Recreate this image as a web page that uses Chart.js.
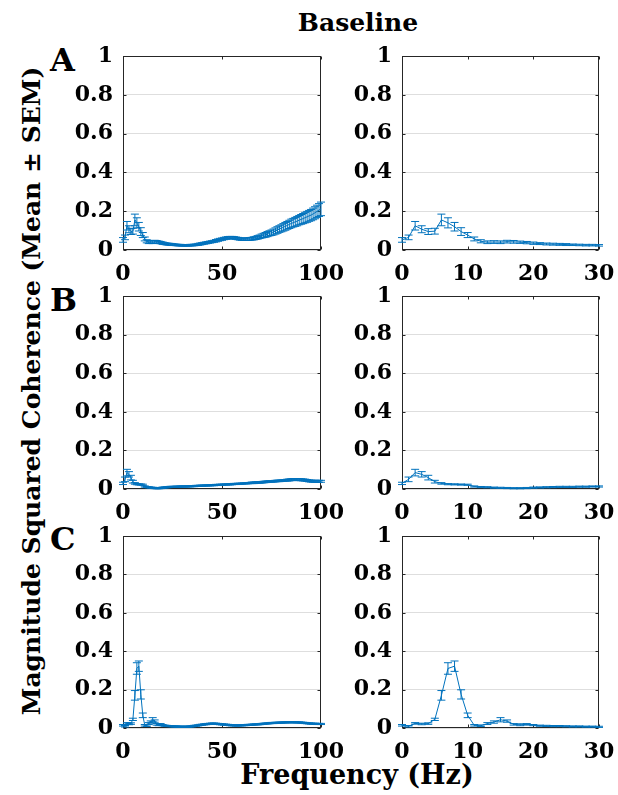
<!DOCTYPE html>
<html>
<head>
<meta charset="utf-8">
<script src="https://cdn.jsdelivr.net/npm/chart.js@4.4.1/dist/chart.umd.min.js"></script>
<style>
  body { margin: 0; background: #fff; }
  #wrap { position: relative; width: 618px; height: 795px; overflow: hidden; font-family: "DejaVu Serif", serif; font-weight: bold; color: #000; }
  #wrap canvas { position: absolute; }
  .lbl { position: absolute; white-space: nowrap; line-height: 1; }
  #title { left: 0; width: 716px; top: 10px; text-align: center; font-size: 25px; }
  #xtitle { left: 0; width: 714px; top: 761px; text-align: center; font-size: 27px; }
  #ytitle { left: 31px; top: 391px; font-size: 25px; transform: translate(-50%, -50%) rotate(-90deg); }
  .letter { left: 50px; font-size: 32px; }
</style>
</head>
<body>
<div id="wrap">
  <div class="lbl" id="title">Baseline</div>
  <div class="lbl" id="ytitle">Magnitude Squared Coherence (Mean ± SEM)</div>
  <div class="lbl" id="xtitle">Frequency (Hz)</div>
  <div class="lbl letter" style="top:44px">A</div>
  <div class="lbl letter" style="top:284px">B</div>
  <div class="lbl letter" style="top:523px">C</div>
</div>
<script>
// frequency bins (Hz)
const freqHz = [0, 1, 2, 3, 4, 5, 6, 7, 8, 9, 10, 11, 12, 13, 14, 15, 16, 17, 18, 19,
  20, 21, 22, 23, 24, 25, 26, 27, 28, 29, 30, 31, 32, 33, 34, 35, 36, 37, 38, 39,
  40, 41, 42, 43, 44, 45, 46, 47, 48, 49, 50, 51, 52, 53, 54, 55, 56, 57, 58, 59,
  60, 61, 62, 63, 64, 65, 66, 67, 68, 69, 70, 71, 72, 73, 74, 75, 76, 77, 78, 79,
  80, 81, 82, 83, 84, 85, 86, 87, 88, 89, 90, 91, 92, 93, 94, 95, 96, 97, 98, 99, 100]

// A: mean coherence and SEM
const meanA = [0.052, 0.065, 0.125, 0.107, 0.095, 0.097, 0.155, 0.140, 0.120, 0.095,
  0.077, 0.057, 0.045, 0.040, 0.041, 0.040, 0.043, 0.042, 0.040, 0.038,
  0.035, 0.033, 0.031, 0.030, 0.029, 0.028, 0.027, 0.026, 0.025, 0.025,
  0.024, 0.024, 0.024, 0.024, 0.025, 0.025, 0.026, 0.027, 0.029, 0.031,
  0.033, 0.035, 0.037, 0.039, 0.041, 0.043, 0.045, 0.048, 0.051, 0.054,
  0.056, 0.059, 0.061, 0.063, 0.064, 0.064, 0.063, 0.061, 0.059, 0.057,
  0.056, 0.055, 0.055, 0.056, 0.057, 0.058, 0.060, 0.062, 0.065, 0.068,
  0.072, 0.075, 0.078, 0.082, 0.086, 0.089, 0.093, 0.098, 0.103, 0.108,
  0.112, 0.117, 0.122, 0.127, 0.132, 0.137, 0.141, 0.145, 0.149, 0.154,
  0.158, 0.162, 0.167, 0.171, 0.176, 0.180, 0.186, 0.192, 0.199, 0.206, 0.212]
const semA = [0.012, 0.012, 0.022, 0.018, 0.015, 0.015, 0.030, 0.026, 0.022, 0.020,
  0.013, 0.010, 0.008, 0.007, 0.007, 0.007, 0.007, 0.007, 0.006, 0.006,
  0.006, 0.005, 0.005, 0.005, 0.005, 0.005, 0.004, 0.004, 0.004, 0.004,
  0.004, 0.004, 0.004, 0.004, 0.004, 0.004, 0.004, 0.004, 0.005, 0.005,
  0.005, 0.005, 0.005, 0.005, 0.005, 0.005, 0.005, 0.006, 0.006, 0.006,
  0.006, 0.006, 0.006, 0.006, 0.006, 0.006, 0.006, 0.006, 0.006, 0.006,
  0.006, 0.006, 0.006, 0.007, 0.007, 0.007, 0.008, 0.008, 0.009, 0.009,
  0.010, 0.011, 0.012, 0.013, 0.013, 0.014, 0.015, 0.016, 0.017, 0.017,
  0.018, 0.019, 0.020, 0.020, 0.021, 0.022, 0.022, 0.023, 0.024, 0.024,
  0.025, 0.026, 0.027, 0.028, 0.028, 0.029, 0.030, 0.031, 0.032, 0.033, 0.035]

// B
const meanB = [0.029, 0.050, 0.085, 0.076, 0.059, 0.038, 0.029, 0.025, 0.024, 0.023,
  0.022, 0.013, 0.010, 0.009, 0.007, 0.006, 0.005, 0.004, 0.004, 0.005,
  0.007, 0.008, 0.009, 0.010, 0.011, 0.011, 0.011, 0.012, 0.012, 0.013,
  0.013, 0.013, 0.013, 0.014, 0.014, 0.015, 0.015, 0.016, 0.016, 0.017,
  0.017, 0.018, 0.018, 0.019, 0.019, 0.020, 0.020, 0.021, 0.021, 0.022,
  0.022, 0.023, 0.023, 0.024, 0.024, 0.025, 0.026, 0.026, 0.027, 0.027,
  0.028, 0.029, 0.029, 0.030, 0.031, 0.032, 0.032, 0.033, 0.034, 0.034,
  0.035, 0.036, 0.037, 0.038, 0.039, 0.039, 0.040, 0.041, 0.042, 0.042,
  0.043, 0.044, 0.045, 0.046, 0.047, 0.048, 0.049, 0.049, 0.049, 0.048,
  0.048, 0.047, 0.046, 0.044, 0.042, 0.041, 0.040, 0.040, 0.040, 0.040, 0.040]
const semB = [0.006, 0.012, 0.017, 0.014, 0.012, 0.007, 0.004, 0.003, 0.003, 0.003,
  0.003, 0.003, 0.003, 0.003, 0.003, 0.003, 0.003, 0.003, 0.003, 0.003,
  0.003, 0.003, 0.003, 0.003, 0.003, 0.003, 0.003, 0.003, 0.003, 0.003,
  0.003, 0.003, 0.003, 0.003, 0.003, 0.003, 0.003, 0.003, 0.003, 0.003,
  0.003, 0.003, 0.003, 0.003, 0.003, 0.003, 0.003, 0.003, 0.003, 0.003,
  0.003, 0.003, 0.003, 0.003, 0.003, 0.003, 0.003, 0.003, 0.003, 0.003,
  0.003, 0.003, 0.003, 0.003, 0.003, 0.004, 0.004, 0.004, 0.004, 0.004,
  0.004, 0.004, 0.004, 0.004, 0.004, 0.004, 0.004, 0.004, 0.004, 0.004,
  0.004, 0.004, 0.004, 0.005, 0.005, 0.005, 0.005, 0.005, 0.005, 0.005,
  0.005, 0.005, 0.005, 0.005, 0.005, 0.005, 0.005, 0.005, 0.005, 0.005, 0.005]

// C
const meanC = [0.014, 0.009, 0.024, 0.021, 0.023, 0.045, 0.170, 0.310, 0.322, 0.175,
  0.066, 0.014, 0.012, 0.023, 0.031, 0.043, 0.036, 0.019, 0.017, 0.019,
  0.015, 0.012, 0.011, 0.010, 0.010, 0.009, 0.008, 0.008, 0.007, 0.007,
  0.006, 0.006, 0.007, 0.007, 0.008, 0.009, 0.011, 0.012, 0.014, 0.016,
  0.017, 0.019, 0.020, 0.021, 0.022, 0.023, 0.023, 0.022, 0.021, 0.020,
  0.019, 0.018, 0.017, 0.016, 0.015, 0.014, 0.014, 0.013, 0.013, 0.014,
  0.014, 0.015, 0.015, 0.016, 0.016, 0.017, 0.018, 0.019, 0.019, 0.020,
  0.021, 0.022, 0.023, 0.024, 0.025, 0.026, 0.026, 0.027, 0.027, 0.028,
  0.028, 0.029, 0.029, 0.030, 0.030, 0.030, 0.030, 0.030, 0.029, 0.029,
  0.028, 0.027, 0.026, 0.025, 0.024, 0.023, 0.022, 0.022, 0.021, 0.021, 0.021]
const semC = [0.004, 0.004, 0.004, 0.004, 0.004, 0.006, 0.025, 0.030, 0.027, 0.024,
  0.012, 0.004, 0.004, 0.005, 0.006, 0.011, 0.006, 0.004, 0.005, 0.004,
  0.003, 0.003, 0.003, 0.003, 0.003, 0.003, 0.003, 0.003, 0.003, 0.003,
  0.003, 0.003, 0.003, 0.003, 0.003, 0.003, 0.003, 0.003, 0.003, 0.003,
  0.003, 0.003, 0.003, 0.003, 0.003, 0.003, 0.003, 0.003, 0.003, 0.003,
  0.003, 0.003, 0.003, 0.003, 0.003, 0.003, 0.003, 0.003, 0.003, 0.003,
  0.003, 0.003, 0.003, 0.003, 0.003, 0.003, 0.003, 0.003, 0.003, 0.003,
  0.003, 0.003, 0.003, 0.003, 0.003, 0.003, 0.003, 0.003, 0.003, 0.003,
  0.003, 0.003, 0.003, 0.003, 0.003, 0.003, 0.003, 0.003, 0.003, 0.003,
  0.003, 0.003, 0.003, 0.003, 0.003, 0.003, 0.003, 0.003, 0.003, 0.003, 0.003]

const xMaxHz = [100, 30]
const xStepHz = [50, 10]
const yTicks = [0, 0.2, 0.4, 0.6, 0.8, 1]

const lineBlue = "#0072BD"
const tickFont = { family: "DejaVu Serif", size: 22, weight: "bold", lineHeight: 1 }

// plot boxes in page pixels; canvases overlap a little, they are transparent
const cols = [{ left: 123, right: 321, canvasLeft: 0 }, { left: 402, right: 599, canvasLeft: 340 }]
const rowsBox = [{ top: 56, bottom: 250 }, { top: 296, bottom: 489 }, { top: 536, bottom: 728 }]
const seriesMean = [meanA, meanB, meanC]
const seriesSem = [semA, semB, semC]

const PAD_TOP = 30, PAD_RIGHT = 45, X_AXIS_H = 44

// vertical mean ± SEM bars with caps
const errorBarPlugin = {
  id: "errorBars",
  afterDatasetsDraw(chart, args, opts) {
    const { ctx, scales: { x, y } } = chart
    ctx.save()
    ctx.strokeStyle = lineBlue
    ctx.lineWidth = 1
    ctx.beginPath()
    opts.freq.forEach((f, i) => {
      const px = x.getPixelForValue(f)
      const lo = y.getPixelForValue(opts.mean[i] - opts.sem[i])
      const hi = y.getPixelForValue(opts.mean[i] + opts.sem[i])
      ctx.moveTo(px, lo); ctx.lineTo(px, hi)
      ctx.moveTo(px - 4, lo); ctx.lineTo(px + 4, lo)
      ctx.moveTo(px - 4, hi); ctx.lineTo(px + 4, hi)
    })
    ctx.stroke()
    ctx.restore()
  }
}

// box around the axes with inward tick marks on all sides
const framePlugin = {
  id: "frame",
  beforeDatasetsDraw(chart) {
    const { ctx, chartArea: a, scales: { x, y } } = chart
    const L = Math.round(a.left) + 0.5, R = Math.round(a.right) - 0.5
    const T = Math.round(a.top) + 0.5, B = Math.round(a.bottom) - 0.5
    ctx.save()
    ctx.strokeStyle = "#262626"
    ctx.lineWidth = 1
    ctx.strokeRect(L, T, R - L, B - T)
    ctx.beginPath()
    x.ticks.forEach(t => {
      const px = Math.round(x.getPixelForValue(t.value)) + 0.5
      ctx.moveTo(px, B); ctx.lineTo(px, B - 3)
      ctx.moveTo(px, T); ctx.lineTo(px, T + 3)
    })
    y.ticks.forEach(t => {
      const py = Math.round(y.getPixelForValue(t.value)) + 0.5
      ctx.moveTo(L, py); ctx.lineTo(L + 3, py)
      ctx.moveTo(R, py); ctx.lineTo(R - 3, py)
    })
    ctx.stroke()
    ctx.restore()
  }
}

function makePanel(r, c) {
  const col = cols[c], box = rowsBox[r]
  const yAxisW = col.left - col.canvasLeft
  const canvas = document.createElement("canvas")
  canvas.width = col.right - col.canvasLeft + PAD_RIGHT
  canvas.height = box.bottom - box.top + PAD_TOP + X_AXIS_H
  canvas.style.left = col.canvasLeft + "px"
  canvas.style.top = (box.top - PAD_TOP) + "px"
  document.getElementById("wrap").append(canvas)

  const n = freqHz.filter(f => f <= xMaxHz[c]).length
  const freq = freqHz.slice(0, n)
  const mean = seriesMean[r].slice(0, n)
  const sem = seriesSem[r].slice(0, n)

  return new Chart(canvas, {
    type: "line",
    data: {
      datasets: [{
        data: freq.map((f, i) => ({ x: f, y: mean[i] })),
        borderColor: lineBlue,
        borderWidth: 1,
        pointRadius: 0,
        tension: 0,
        clip: false
      }]
    },
    options: {
      responsive: false,
      animation: false,
      events: [],
      layout: { padding: { left: 0, top: PAD_TOP, right: PAD_RIGHT, bottom: 0 } },
      plugins: {
        legend: { display: false },
        tooltip: { enabled: false },
        errorBars: { freq, mean, sem }
      },
      scales: {
        x: {
          type: "linear", min: 0, max: xMaxHz[c],
          ticks: { stepSize: xStepHz[c], color: "#000", font: tickFont, padding: 5, maxRotation: 0 },
          grid: { display: false },
          border: { display: false },
          afterFit: s => { s.height = X_AXIS_H }
        },
        y: {
          type: "linear", min: 0, max: 1,
          afterBuildTicks: s => { s.ticks = yTicks.map(v => ({ value: v })) },
          ticks: { color: "#000", font: tickFont, padding: 10, callback: v => String(+v.toFixed(1)) },
          grid: { color: "#dedede", drawTicks: false },
          border: { display: false },
          afterFit: s => { s.width = yAxisW }
        }
      }
    },
    plugins: [framePlugin, errorBarPlugin]
  })
}

for (let r = 0; r < 3; r++) for (let c = 0; c < 2; c++) makePanel(r, c)
</script>
</body>
</html>
